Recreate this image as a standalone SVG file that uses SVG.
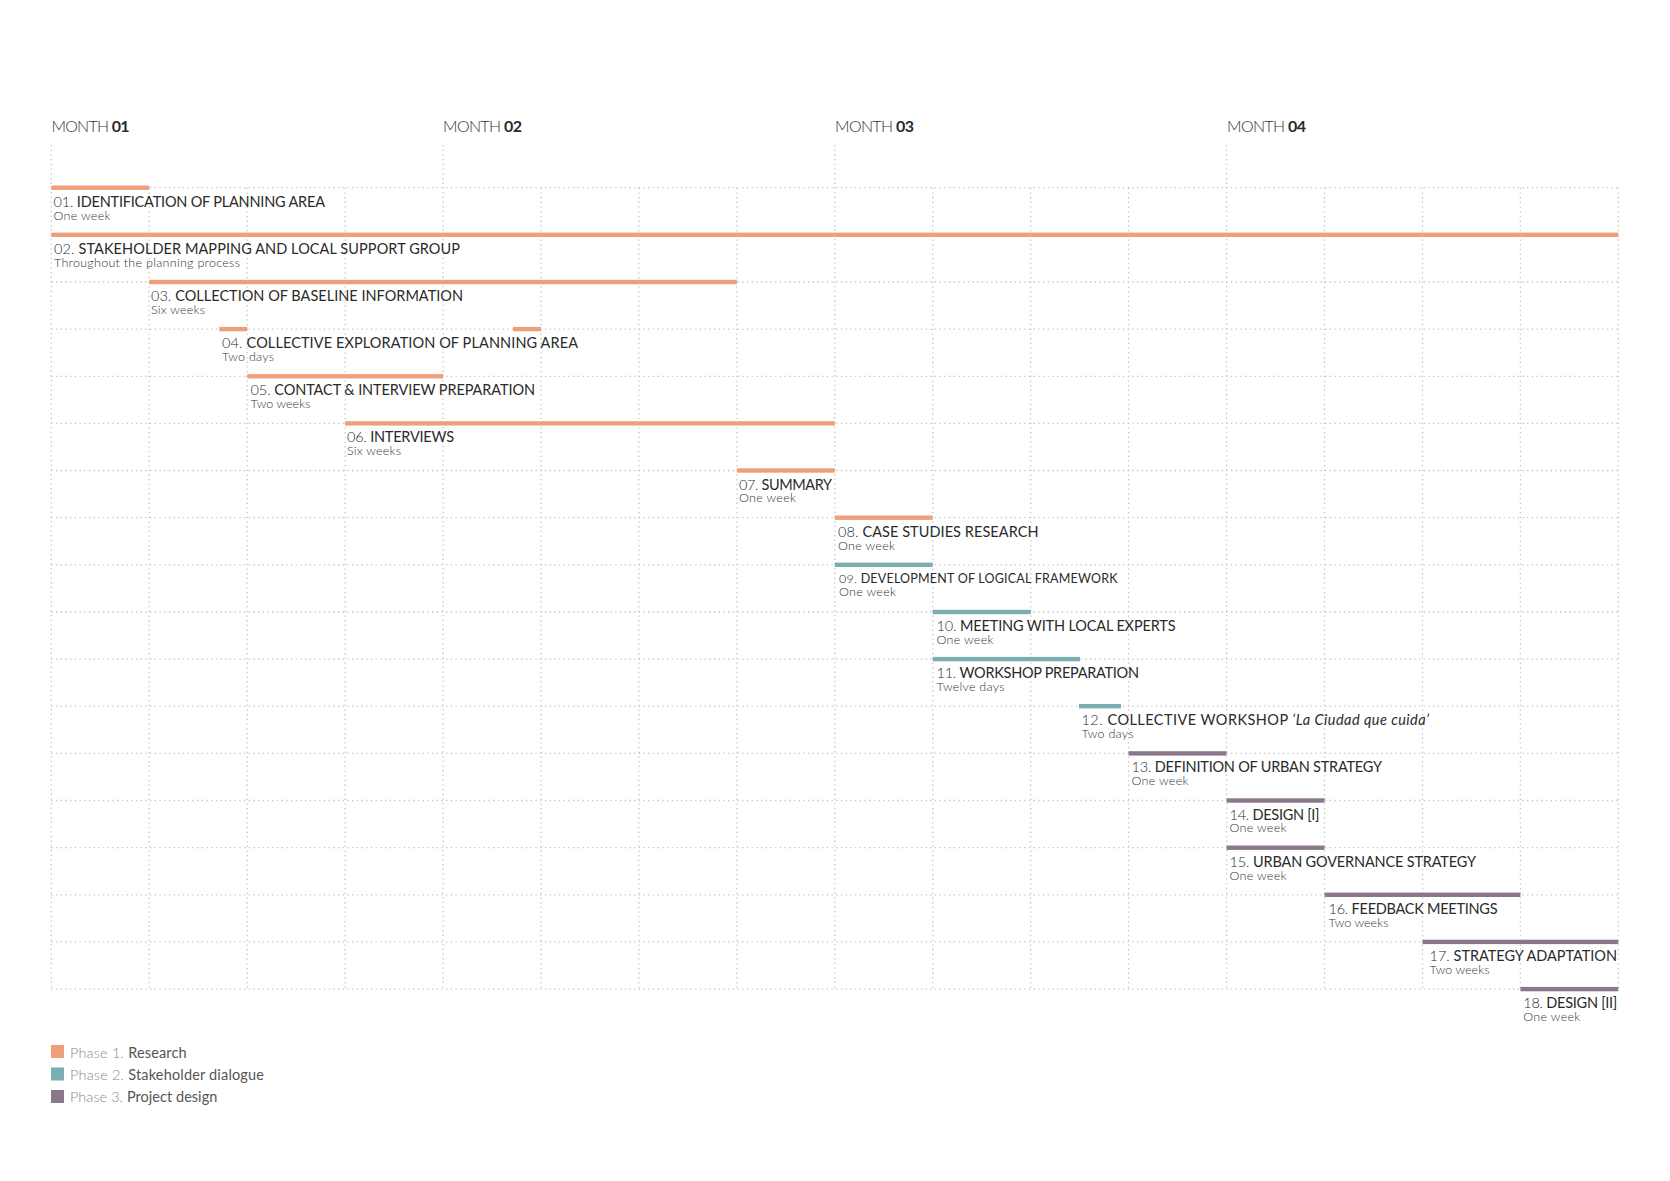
<svg xmlns="http://www.w3.org/2000/svg" width="1670" height="1181" viewBox="0 0 1670 1181">
<style>
.grid line{stroke:#c4c4c4;stroke-width:1.3;stroke-dasharray:1.3 3.4;fill:none}
.o{fill:#EFA07A}
.t{fill:#7BAEB1}
.p{fill:#8B778B}
.ti{font-family:Lato,"Liberation Sans",sans-serif;font-size:14.5px;fill:#2a2a2a;font-weight:400}
.ti .n{font-weight:300}
.sm{font-size:12.5px}
.su{font-family:Lato,"Liberation Sans",sans-serif;font-size:12.5px;fill:#333;font-weight:300}
.mo{font-family:Lato,"Liberation Sans",sans-serif;font-size:16px;fill:#333;font-weight:300}
.mo .b{font-weight:700;fill:#2a2a2a}
.lg{font-family:Lato,"Liberation Sans",sans-serif;font-size:14.5px;fill:#8a8a8a;font-weight:300}
.lg .b{font-weight:400;fill:#555}
</style>
<rect width="1670" height="1181" fill="#ffffff"/>
<g id="month-labels">
<text class="mo" x="51.5" y="132" textLength="78">MONTH <tspan class="b">01</tspan></text>
<text class="mo" x="443" y="132" textLength="79">MONTH <tspan class="b">02</tspan></text>
<text class="mo" x="835" y="132" textLength="79">MONTH <tspan class="b">03</tspan></text>
<text class="mo" x="1227" y="132" textLength="79">MONTH <tspan class="b">04</tspan></text>
</g>
<g id="grid" class="grid">
<line x1="51.3" y1="187.7" x2="1618.3" y2="187.7"/>
<line x1="51.3" y1="234.8" x2="1618.3" y2="234.8"/>
<line x1="51.3" y1="282.0" x2="1618.3" y2="282.0"/>
<line x1="51.3" y1="329.1" x2="1618.3" y2="329.1"/>
<line x1="51.3" y1="376.3" x2="1618.3" y2="376.3"/>
<line x1="51.3" y1="423.4" x2="1618.3" y2="423.4"/>
<line x1="51.3" y1="470.5" x2="1618.3" y2="470.5"/>
<line x1="51.3" y1="517.7" x2="1618.3" y2="517.7"/>
<line x1="51.3" y1="564.8" x2="1618.3" y2="564.8"/>
<line x1="51.3" y1="612.0" x2="1618.3" y2="612.0"/>
<line x1="51.3" y1="659.1" x2="1618.3" y2="659.1"/>
<line x1="51.3" y1="706.2" x2="1618.3" y2="706.2"/>
<line x1="51.3" y1="753.4" x2="1618.3" y2="753.4"/>
<line x1="51.3" y1="800.5" x2="1618.3" y2="800.5"/>
<line x1="51.3" y1="847.7" x2="1618.3" y2="847.7"/>
<line x1="51.3" y1="894.8" x2="1618.3" y2="894.8"/>
<line x1="51.3" y1="941.9" x2="1618.3" y2="941.9"/>
<line x1="51.3" y1="989.1" x2="1618.3" y2="989.1"/>
<line x1="51.3" y1="145" x2="51.3" y2="989.1"/>
<line x1="149.2" y1="187.7" x2="149.2" y2="989.1"/>
<line x1="247.2" y1="187.7" x2="247.2" y2="989.1"/>
<line x1="345.1" y1="187.7" x2="345.1" y2="989.1"/>
<line x1="443.1" y1="145" x2="443.1" y2="989.1"/>
<line x1="541.0" y1="187.7" x2="541.0" y2="989.1"/>
<line x1="638.9" y1="187.7" x2="638.9" y2="989.1"/>
<line x1="736.9" y1="187.7" x2="736.9" y2="989.1"/>
<line x1="834.8" y1="145" x2="834.8" y2="989.1"/>
<line x1="932.8" y1="187.7" x2="932.8" y2="989.1"/>
<line x1="1030.7" y1="187.7" x2="1030.7" y2="989.1"/>
<line x1="1128.6" y1="187.7" x2="1128.6" y2="989.1"/>
<line x1="1226.6" y1="145" x2="1226.6" y2="989.1"/>
<line x1="1324.5" y1="187.7" x2="1324.5" y2="989.1"/>
<line x1="1422.5" y1="187.7" x2="1422.5" y2="989.1"/>
<line x1="1520.4" y1="187.7" x2="1520.4" y2="989.1"/>
<line x1="1618.3" y1="187.7" x2="1618.3" y2="989.1"/>
</g>
<g id="connectors"></g>
<g id="task01"><rect class="o" x="51.3" y="185.5" width="97.9" height="4.4"/>
<text class="ti" x="53.5" y="206.7" textLength="271.5"><tspan class="n">01. </tspan>IDENTIFICATION OF PLANNING AREA</text>
<text class="su" x="53.5" y="219.5" textLength="57">One week</text></g>
<g id="task02"><rect class="o" x="51.3" y="232.6" width="1567" height="4.4"/>
<text class="ti" x="54" y="253.8" textLength="406"><tspan class="n">02. </tspan>STAKEHOLDER MAPPING AND LOCAL SUPPORT GROUP</text>
<text class="su" x="54" y="266.6" textLength="186">Throughout the planning process</text></g>
<g id="task03"><rect class="o" x="149.2" y="279.8" width="587.7" height="4.4"/>
<text class="ti" x="151" y="301" textLength="312"><tspan class="n">03. </tspan>COLLECTION OF BASELINE INFORMATION</text>
<text class="su" x="151" y="313.8" textLength="54">Six weeks</text></g>
<g id="task04"><rect class="o" x="219.2" y="326.9" width="28" height="4.4"/><rect class="o" x="513" y="326.9" width="28" height="4.4"/>
<text class="ti" x="222" y="348.1" textLength="356"><tspan class="n">04. </tspan>COLLECTIVE EXPLORATION OF PLANNING AREA</text>
<text class="su" x="222" y="360.9" textLength="52">Two days</text></g>
<g id="task05"><rect class="o" x="247.2" y="374.1" width="195.9" height="4.4"/>
<text class="ti" x="250.5" y="395.3" textLength="284.5"><tspan class="n">05. </tspan>CONTACT &amp; INTERVIEW PREPARATION</text>
<text class="su" x="250.5" y="408.1" textLength="60">Two weeks</text></g>
<g id="task06"><rect class="o" x="345.1" y="421.2" width="489.7" height="4.4"/>
<text class="ti" x="347" y="442.4" textLength="107"><tspan class="n">06. </tspan>INTERVIEWS</text>
<text class="su" x="347" y="455.2" textLength="54">Six weeks</text></g>
<g id="task07"><rect class="o" x="736.9" y="468.3" width="97.9" height="4.4"/>
<text class="ti" x="739" y="489.5" textLength="93"><tspan class="n">07. </tspan>SUMMARY</text>
<text class="su" x="739" y="502.3" textLength="57">One week</text></g>
<g id="task08"><rect class="o" x="834.8" y="515.5" width="97.9" height="4.4"/>
<text class="ti" x="838" y="536.7" textLength="200.5"><tspan class="n">08. </tspan>CASE STUDIES RESEARCH</text>
<text class="su" x="838" y="549.5" textLength="57">One week</text></g>
<g id="task09"><rect class="t" x="834.8" y="562.6" width="97.9" height="4.4"/>
<text class="ti sm" x="839" y="582.5" textLength="278.5"><tspan class="n">09. </tspan>DEVELOPMENT OF LOGICAL FRAMEWORK</text>
<text class="su" x="839" y="595.6" textLength="57">One week</text></g>
<g id="task10"><rect class="t" x="932.8" y="609.8" width="97.9" height="4.4"/>
<text class="ti" x="936.5" y="631" textLength="239"><tspan class="n">10. </tspan>MEETING WITH LOCAL EXPERTS</text>
<text class="su" x="936.5" y="643.8" textLength="57">One week</text></g>
<g id="task11"><rect class="t" x="932.8" y="656.9" width="147.2" height="4.4"/>
<text class="ti" x="936.5" y="678.1" textLength="202.5"><tspan class="n">11. </tspan>WORKSHOP PREPARATION</text>
<text class="su" x="936.5" y="690.9" textLength="68">Twelve days</text></g>
<g id="task12"><rect class="t" x="1079" y="704" width="42" height="4.4"/>
<text class="ti" x="1081.5" y="725.2" textLength="347.5"><tspan class="n">12. </tspan>COLLECTIVE WORKSHOP <tspan font-style="italic">‘La Ciudad que cuida’</tspan></text>
<text class="su" x="1081.5" y="738" textLength="52">Two days</text></g>
<g id="task13"><rect class="p" x="1128.6" y="751.2" width="97.9" height="4.4"/>
<text class="ti" x="1131.5" y="772.4" textLength="250.5"><tspan class="n">13. </tspan>DEFINITION OF URBAN STRATEGY</text>
<text class="su" x="1131.5" y="785.2" textLength="57">One week</text></g>
<g id="task14"><rect class="p" x="1226.6" y="798.3" width="97.9" height="4.4"/>
<text class="ti" x="1229.5" y="819.5" textLength="90"><tspan class="n">14. </tspan>DESIGN [I]</text>
<text class="su" x="1229.5" y="832.3" textLength="57">One week</text></g>
<g id="task15"><rect class="p" x="1226.6" y="845.5" width="97.9" height="4.4"/>
<text class="ti" x="1229.5" y="866.7" textLength="246.5"><tspan class="n">15. </tspan>URBAN GOVERNANCE STRATEGY</text>
<text class="su" x="1229.5" y="879.5" textLength="57">One week</text></g>
<g id="task16"><rect class="p" x="1324.5" y="892.6" width="195.9" height="4.4"/>
<text class="ti" x="1328.5" y="913.8" textLength="169"><tspan class="n">16. </tspan>FEEDBACK MEETINGS</text>
<text class="su" x="1328.5" y="926.6" textLength="60">Two weeks</text></g>
<g id="task17"><rect class="p" x="1422.5" y="939.7" width="195.9" height="4.4"/>
<text class="ti" x="1429.5" y="960.9" textLength="187.5"><tspan class="n">17. </tspan>STRATEGY ADAPTATION</text>
<text class="su" x="1429.5" y="973.7" textLength="60">Two weeks</text></g>
<g id="task18"><rect class="p" x="1520.4" y="986.9" width="97.9" height="4.4"/>
<text class="ti" x="1523.3" y="1008.1" textLength="94"><tspan class="n">18. </tspan>DESIGN [II]</text>
<text class="su" x="1523.3" y="1020.9" textLength="57">One week</text></g>
<g id="legend">
<rect class="o" x="51" y="1045" width="13" height="13"/>
<text class="lg" x="70" y="1057.5" textLength="116.7">Phase 1.  <tspan class="b">Research</tspan></text>
<rect class="t" x="51" y="1067.5" width="13" height="13"/>
<text class="lg" x="70" y="1079.5" textLength="194">Phase 2. <tspan class="b">Stakeholder dialogue</tspan></text>
<rect class="p" x="51" y="1090" width="13" height="13"/>
<text class="lg" x="70" y="1101.5" textLength="147.3">Phase 3. <tspan class="b">Project design</tspan></text>
</g>
</svg>
